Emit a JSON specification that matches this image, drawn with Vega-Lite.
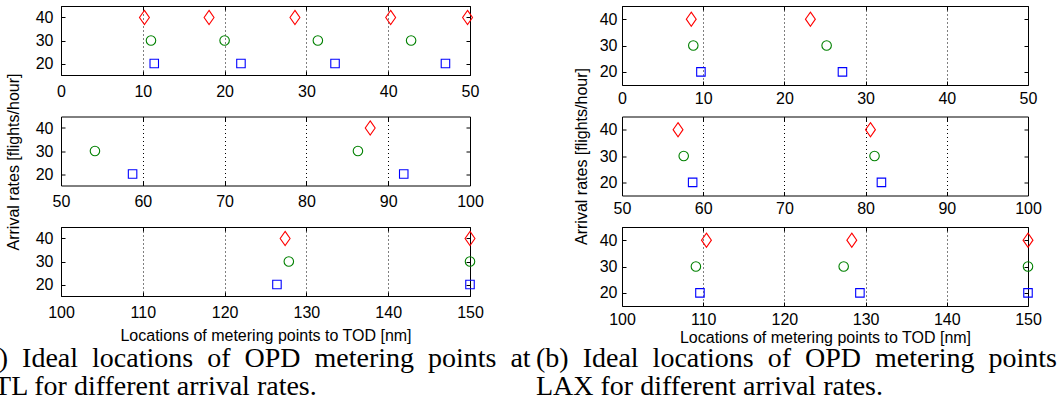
{
  "$schema": "https://vega.github.io/schema/vega-lite/v6.json",
  "padding": {"left": -23, "top": 2, "right": 0, "bottom": 0},
  "background": "white",
  "config": {
    "view": {"stroke": "black", "strokeWidth": 1},
    "font": "Liberation Sans",
    "axis": {
      "labelFont": "Liberation Sans", "labelFontSize": 16, "labelColor": "black",
      "titleFont": "Liberation Sans", "titleFontSize": 16, "titleFontWeight": "normal", "titleColor": "black",
      "domain": false, "tickColor": "black", "tickSize": -4, "tickWidth": 1, "labelFlush": false,
      "gridColor": "black", "gridDash": [1, 3], "gridOpacity": 1, "gridWidth": 1
    },
    "point": {"filled": false, "strokeWidth": 1.1, "opacity": 1}
  },
  "datasets": {
    "atl": [
      {"location": 10.2, "rate": 40}, {"location": 18.1, "rate": 40}, {"location": 28.6, "rate": 40}, {"location": 40.3, "rate": 40}, {"location": 49.7, "rate": 40},
      {"location": 11.0, "rate": 30}, {"location": 20.0, "rate": 30}, {"location": 31.4, "rate": 30}, {"location": 42.8, "rate": 30},
      {"location": 11.4, "rate": 20}, {"location": 22.0, "rate": 20}, {"location": 33.5, "rate": 20}, {"location": 47.0, "rate": 20},
      {"location": 54.15, "rate": 30}, {"location": 86.3, "rate": 30},
      {"location": 58.75, "rate": 20}, {"location": 91.9, "rate": 20},
      {"location": 87.8, "rate": 40},
      {"location": 127.4, "rate": 40}, {"location": 150, "rate": 40},
      {"location": 127.85, "rate": 30}, {"location": 150, "rate": 30},
      {"location": 126.4, "rate": 20}, {"location": 150, "rate": 20}
    ],
    "lax": [
      {"location": 8.53, "rate": 40}, {"location": 23.2, "rate": 40},
      {"location": 8.78, "rate": 30}, {"location": 25.2, "rate": 30},
      {"location": 9.72, "rate": 20}, {"location": 27.15, "rate": 20},
      {"location": 56.9, "rate": 40}, {"location": 80.6, "rate": 40},
      {"location": 57.6, "rate": 30}, {"location": 81.1, "rate": 30},
      {"location": 58.7, "rate": 20}, {"location": 81.95, "rate": 20},
      {"location": 110.4, "rate": 40}, {"location": 128.3, "rate": 40}, {"location": 150, "rate": 40},
      {"location": 109.1, "rate": 30}, {"location": 127.3, "rate": 30}, {"location": 150, "rate": 30},
      {"location": 109.6, "rate": 20}, {"location": 129.3, "rate": 20}, {"location": 150, "rate": 20}
    ]
  },
  "spacing": 5,
  "hconcat": [
    {
      "bounds": "flush",
      "spacing": 41.5,
      "resolve": {"scale": {"x": "independent", "y": "independent"}},
      "title": {"text": ["(a)\u00a0 Ideal\u00a0 locations\u00a0 of\u00a0 OPD\u00a0 metering\u00a0 points\u00a0 at", "ATL for different arrival rates."], "orient": "bottom", "anchor": "start", "frame": "group", "font": "Liberation Serif", "fontSize": 28, "fontWeight": "normal", "lineHeight": 28, "dx": -84, "offset": 1, "color": "black"},
      "vconcat": [
        {
          "width": 409, "height": 69,
          "data": {"name": "atl"},
          "transform": [{"filter": {"field": "location", "range": [0, 50]}}],
          "resolve": {"axis": {"x": "independent", "y": "independent"}},
          "layer": [
            {
              "mark": {"type": "point", "filled": false, "strokeWidth": 1.1},
              "encoding": {
                "x": {"field": "location", "type": "quantitative", "scale": {"domain": [0, 50], "nice": false, "zero": false}, "axis": {"values": [0, 10, 20, 30, 40, 50], "grid": true, "title": null, "labelPadding": 12}},
                "y": {"field": "rate", "type": "quantitative", "scale": {"domain": [15, 45], "nice": false, "zero": false}, "axis": {"values": [20, 30, 40], "grid": false, "title": null, "labelPadding": 12}},
                "color": {"field": "rate", "type": "nominal", "scale": {"domain": [20, 30, 40], "range": ["#0000ff", "#008000", "#ff0000"]}, "legend": null},
                "shape": {"field": "rate", "type": "nominal", "scale": {"domain": [20, 30, 40], "range": ["square", "circle", "M0,-1L0.7,0L0,1L-0.7,0Z"]}, "legend": null},
                "size": {"field": "rate", "type": "quantitative", "scale": {"type": "threshold", "domain": [25, 35], "range": [72, 90, 200]}, "legend": null}
              }
            },
            {
              "mark": {"type": "point", "opacity": 0},
              "encoding": {
                "x": {"field": "location", "type": "quantitative", "axis": {"orient": "top", "values": [0, 10, 20, 30, 40, 50], "labels": false, "grid": false, "title": ".", "titleFontSize": 2, "titleColor": "white", "titlePadding": 1}},
                "y": {"field": "rate", "type": "quantitative", "axis": {"orient": "right", "values": [20, 30, 40], "labels": false, "grid": false, "title": null}}
              }
            }
          ]
        },
        {
          "width": 409, "height": 69,
          "data": {"name": "atl"},
          "transform": [{"filter": {"field": "location", "range": [50, 100]}}],
          "resolve": {"axis": {"x": "independent", "y": "independent"}},
          "layer": [
            {
              "mark": {"type": "point", "filled": false, "strokeWidth": 1.1},
              "encoding": {
                "x": {"field": "location", "type": "quantitative", "scale": {"domain": [50, 100], "nice": false, "zero": false}, "axis": {"values": [50, 60, 70, 80, 90, 100], "grid": true, "title": null, "labelPadding": 12}},
                "y": {"field": "rate", "type": "quantitative", "scale": {"domain": [15, 45], "nice": false, "zero": false}, "axis": {"values": [20, 30, 40], "grid": false, "title": "Arrival rates [flights/hour]", "titlePadding": 14, "titleY": 45, "labelPadding": 12}},
                "color": {"field": "rate", "type": "nominal", "scale": {"domain": [20, 30, 40], "range": ["#0000ff", "#008000", "#ff0000"]}, "legend": null},
                "shape": {"field": "rate", "type": "nominal", "scale": {"domain": [20, 30, 40], "range": ["square", "circle", "M0,-1L0.7,0L0,1L-0.7,0Z"]}, "legend": null},
                "size": {"field": "rate", "type": "quantitative", "scale": {"type": "threshold", "domain": [25, 35], "range": [72, 90, 200]}, "legend": null}
              }
            },
            {
              "mark": {"type": "point", "opacity": 0},
              "encoding": {
                "x": {"field": "location", "type": "quantitative", "axis": {"orient": "top", "values": [50, 60, 70, 80, 90, 100], "labels": false, "grid": false, "title": null}},
                "y": {"field": "rate", "type": "quantitative", "axis": {"orient": "right", "values": [20, 30, 40], "labels": false, "grid": false, "title": null}}
              }
            }
          ]
        },
        {
          "width": 409, "height": 69,
          "data": {"name": "atl"},
          "transform": [{"filter": {"field": "location", "range": [100, 150]}}],
          "resolve": {"axis": {"x": "independent", "y": "independent"}},
          "layer": [
            {
              "mark": {"type": "point", "filled": false, "strokeWidth": 1.1},
              "encoding": {
                "x": {"field": "location", "type": "quantitative", "scale": {"domain": [100, 150], "nice": false, "zero": false}, "axis": {"values": [100, 110, 120, 130, 140, 150], "grid": true, "title": "Locations of metering points to TOD [nm]", "titlePadding": 7, "labelPadding": 12}},
                "y": {"field": "rate", "type": "quantitative", "scale": {"domain": [15, 45], "nice": false, "zero": false}, "axis": {"values": [20, 30, 40], "grid": false, "title": null, "labelPadding": 12}},
                "color": {"field": "rate", "type": "nominal", "scale": {"domain": [20, 30, 40], "range": ["#0000ff", "#008000", "#ff0000"]}, "legend": null},
                "shape": {"field": "rate", "type": "nominal", "scale": {"domain": [20, 30, 40], "range": ["square", "circle", "M0,-1L0.7,0L0,1L-0.7,0Z"]}, "legend": null},
                "size": {"field": "rate", "type": "quantitative", "scale": {"type": "threshold", "domain": [25, 35], "range": [72, 90, 200]}, "legend": null}
              }
            },
            {
              "mark": {"type": "point", "opacity": 0},
              "encoding": {
                "x": {"field": "location", "type": "quantitative", "axis": {"orient": "top", "values": [100, 110, 120, 130, 140, 150], "labels": false, "grid": false, "title": null}},
                "y": {"field": "rate", "type": "quantitative", "axis": {"orient": "right", "values": [20, 30, 40], "labels": false, "grid": false, "title": null}}
              }
            }
          ]
        }
      ]
    },
    {
      "bounds": "flush",
      "spacing": 31.5,
      "resolve": {"scale": {"x": "independent", "y": "independent"}},
      "title": {"text": ["(b)\u00a0 Ideal\u00a0 locations\u00a0 of\u00a0 OPD\u00a0 metering\u00a0 points\u00a0 at", "LAX for different arrival rates."], "orient": "bottom", "anchor": "start", "frame": "group", "font": "Liberation Serif", "fontSize": 28, "fontWeight": "normal", "lineHeight": 28, "dx": -86, "offset": -1, "color": "black"},
      "vconcat": [
        {
          "width": 406, "height": 79,
          "data": {"name": "lax"},
          "transform": [{"filter": {"field": "location", "range": [0, 50]}}],
          "resolve": {"axis": {"x": "independent", "y": "independent"}},
          "layer": [
            {
              "mark": {"type": "point", "filled": false, "strokeWidth": 1.1},
              "encoding": {
                "x": {"field": "location", "type": "quantitative", "scale": {"domain": [0, 50], "nice": false, "zero": false}, "axis": {"values": [0, 10, 20, 30, 40, 50], "grid": true, "title": null, "labelPadding": 9}},
                "y": {"field": "rate", "type": "quantitative", "scale": {"domain": [15, 45], "nice": false, "zero": false}, "axis": {"values": [20, 30, 40], "grid": false, "title": null, "labelPadding": 9}},
                "color": {"field": "rate", "type": "nominal", "scale": {"domain": [20, 30, 40], "range": ["#0000ff", "#008000", "#ff0000"]}, "legend": null},
                "shape": {"field": "rate", "type": "nominal", "scale": {"domain": [20, 30, 40], "range": ["square", "circle", "M0,-1L0.7,0L0,1L-0.7,0Z"]}, "legend": null},
                "size": {"field": "rate", "type": "quantitative", "scale": {"type": "threshold", "domain": [25, 35], "range": [72, 90, 200]}, "legend": null}
              }
            },
            {
              "mark": {"type": "point", "opacity": 0},
              "encoding": {
                "x": {"field": "location", "type": "quantitative", "axis": {"orient": "top", "values": [0, 10, 20, 30, 40, 50], "labels": false, "grid": false, "title": null}},
                "y": {"field": "rate", "type": "quantitative", "axis": {"orient": "right", "values": [20, 30, 40], "labels": false, "grid": false, "title": null}}
              }
            }
          ]
        },
        {
          "width": 406, "height": 79,
          "data": {"name": "lax"},
          "transform": [{"filter": {"field": "location", "range": [50, 100]}}],
          "resolve": {"axis": {"x": "independent", "y": "independent"}},
          "layer": [
            {
              "mark": {"type": "point", "filled": false, "strokeWidth": 1.1},
              "encoding": {
                "x": {"field": "location", "type": "quantitative", "scale": {"domain": [50, 100], "nice": false, "zero": false}, "axis": {"values": [50, 60, 70, 80, 90, 100], "grid": true, "title": null, "labelPadding": 9}},
                "y": {"field": "rate", "type": "quantitative", "scale": {"domain": [15, 45], "nice": false, "zero": false}, "axis": {"values": [20, 30, 40], "grid": false, "title": "Arrival rates [flights/hour]", "titlePadding": 10, "labelPadding": 9}},
                "color": {"field": "rate", "type": "nominal", "scale": {"domain": [20, 30, 40], "range": ["#0000ff", "#008000", "#ff0000"]}, "legend": null},
                "shape": {"field": "rate", "type": "nominal", "scale": {"domain": [20, 30, 40], "range": ["square", "circle", "M0,-1L0.7,0L0,1L-0.7,0Z"]}, "legend": null},
                "size": {"field": "rate", "type": "quantitative", "scale": {"type": "threshold", "domain": [25, 35], "range": [72, 90, 200]}, "legend": null}
              }
            },
            {
              "mark": {"type": "point", "opacity": 0},
              "encoding": {
                "x": {"field": "location", "type": "quantitative", "axis": {"orient": "top", "values": [50, 60, 70, 80, 90, 100], "labels": false, "grid": false, "title": null}},
                "y": {"field": "rate", "type": "quantitative", "axis": {"orient": "right", "values": [20, 30, 40], "labels": false, "grid": false, "title": null}}
              }
            }
          ]
        },
        {
          "width": 406, "height": 79,
          "data": {"name": "lax"},
          "transform": [{"filter": {"field": "location", "range": [100, 150]}}],
          "resolve": {"axis": {"x": "independent", "y": "independent"}},
          "layer": [
            {
              "mark": {"type": "point", "filled": false, "strokeWidth": 1.1},
              "encoding": {
                "x": {"field": "location", "type": "quantitative", "scale": {"domain": [100, 150], "nice": false, "zero": false}, "axis": {"values": [100, 110, 120, 130, 140, 150], "grid": true, "title": "Locations of metering points to TOD [nm]", "titlePadding": 2, "labelPadding": 9}},
                "y": {"field": "rate", "type": "quantitative", "scale": {"domain": [15, 45], "nice": false, "zero": false}, "axis": {"values": [20, 30, 40], "grid": false, "title": null, "labelPadding": 9}},
                "color": {"field": "rate", "type": "nominal", "scale": {"domain": [20, 30, 40], "range": ["#0000ff", "#008000", "#ff0000"]}, "legend": null},
                "shape": {"field": "rate", "type": "nominal", "scale": {"domain": [20, 30, 40], "range": ["square", "circle", "M0,-1L0.7,0L0,1L-0.7,0Z"]}, "legend": null},
                "size": {"field": "rate", "type": "quantitative", "scale": {"type": "threshold", "domain": [25, 35], "range": [72, 90, 200]}, "legend": null}
              }
            },
            {
              "mark": {"type": "point", "opacity": 0},
              "encoding": {
                "x": {"field": "location", "type": "quantitative", "axis": {"orient": "top", "values": [100, 110, 120, 130, 140, 150], "labels": false, "grid": false, "title": null}},
                "y": {"field": "rate", "type": "quantitative", "axis": {"orient": "right", "values": [20, 30, 40], "labels": false, "grid": false, "title": null}}
              }
            }
          ]
        }
      ]
    }
  ]
}
